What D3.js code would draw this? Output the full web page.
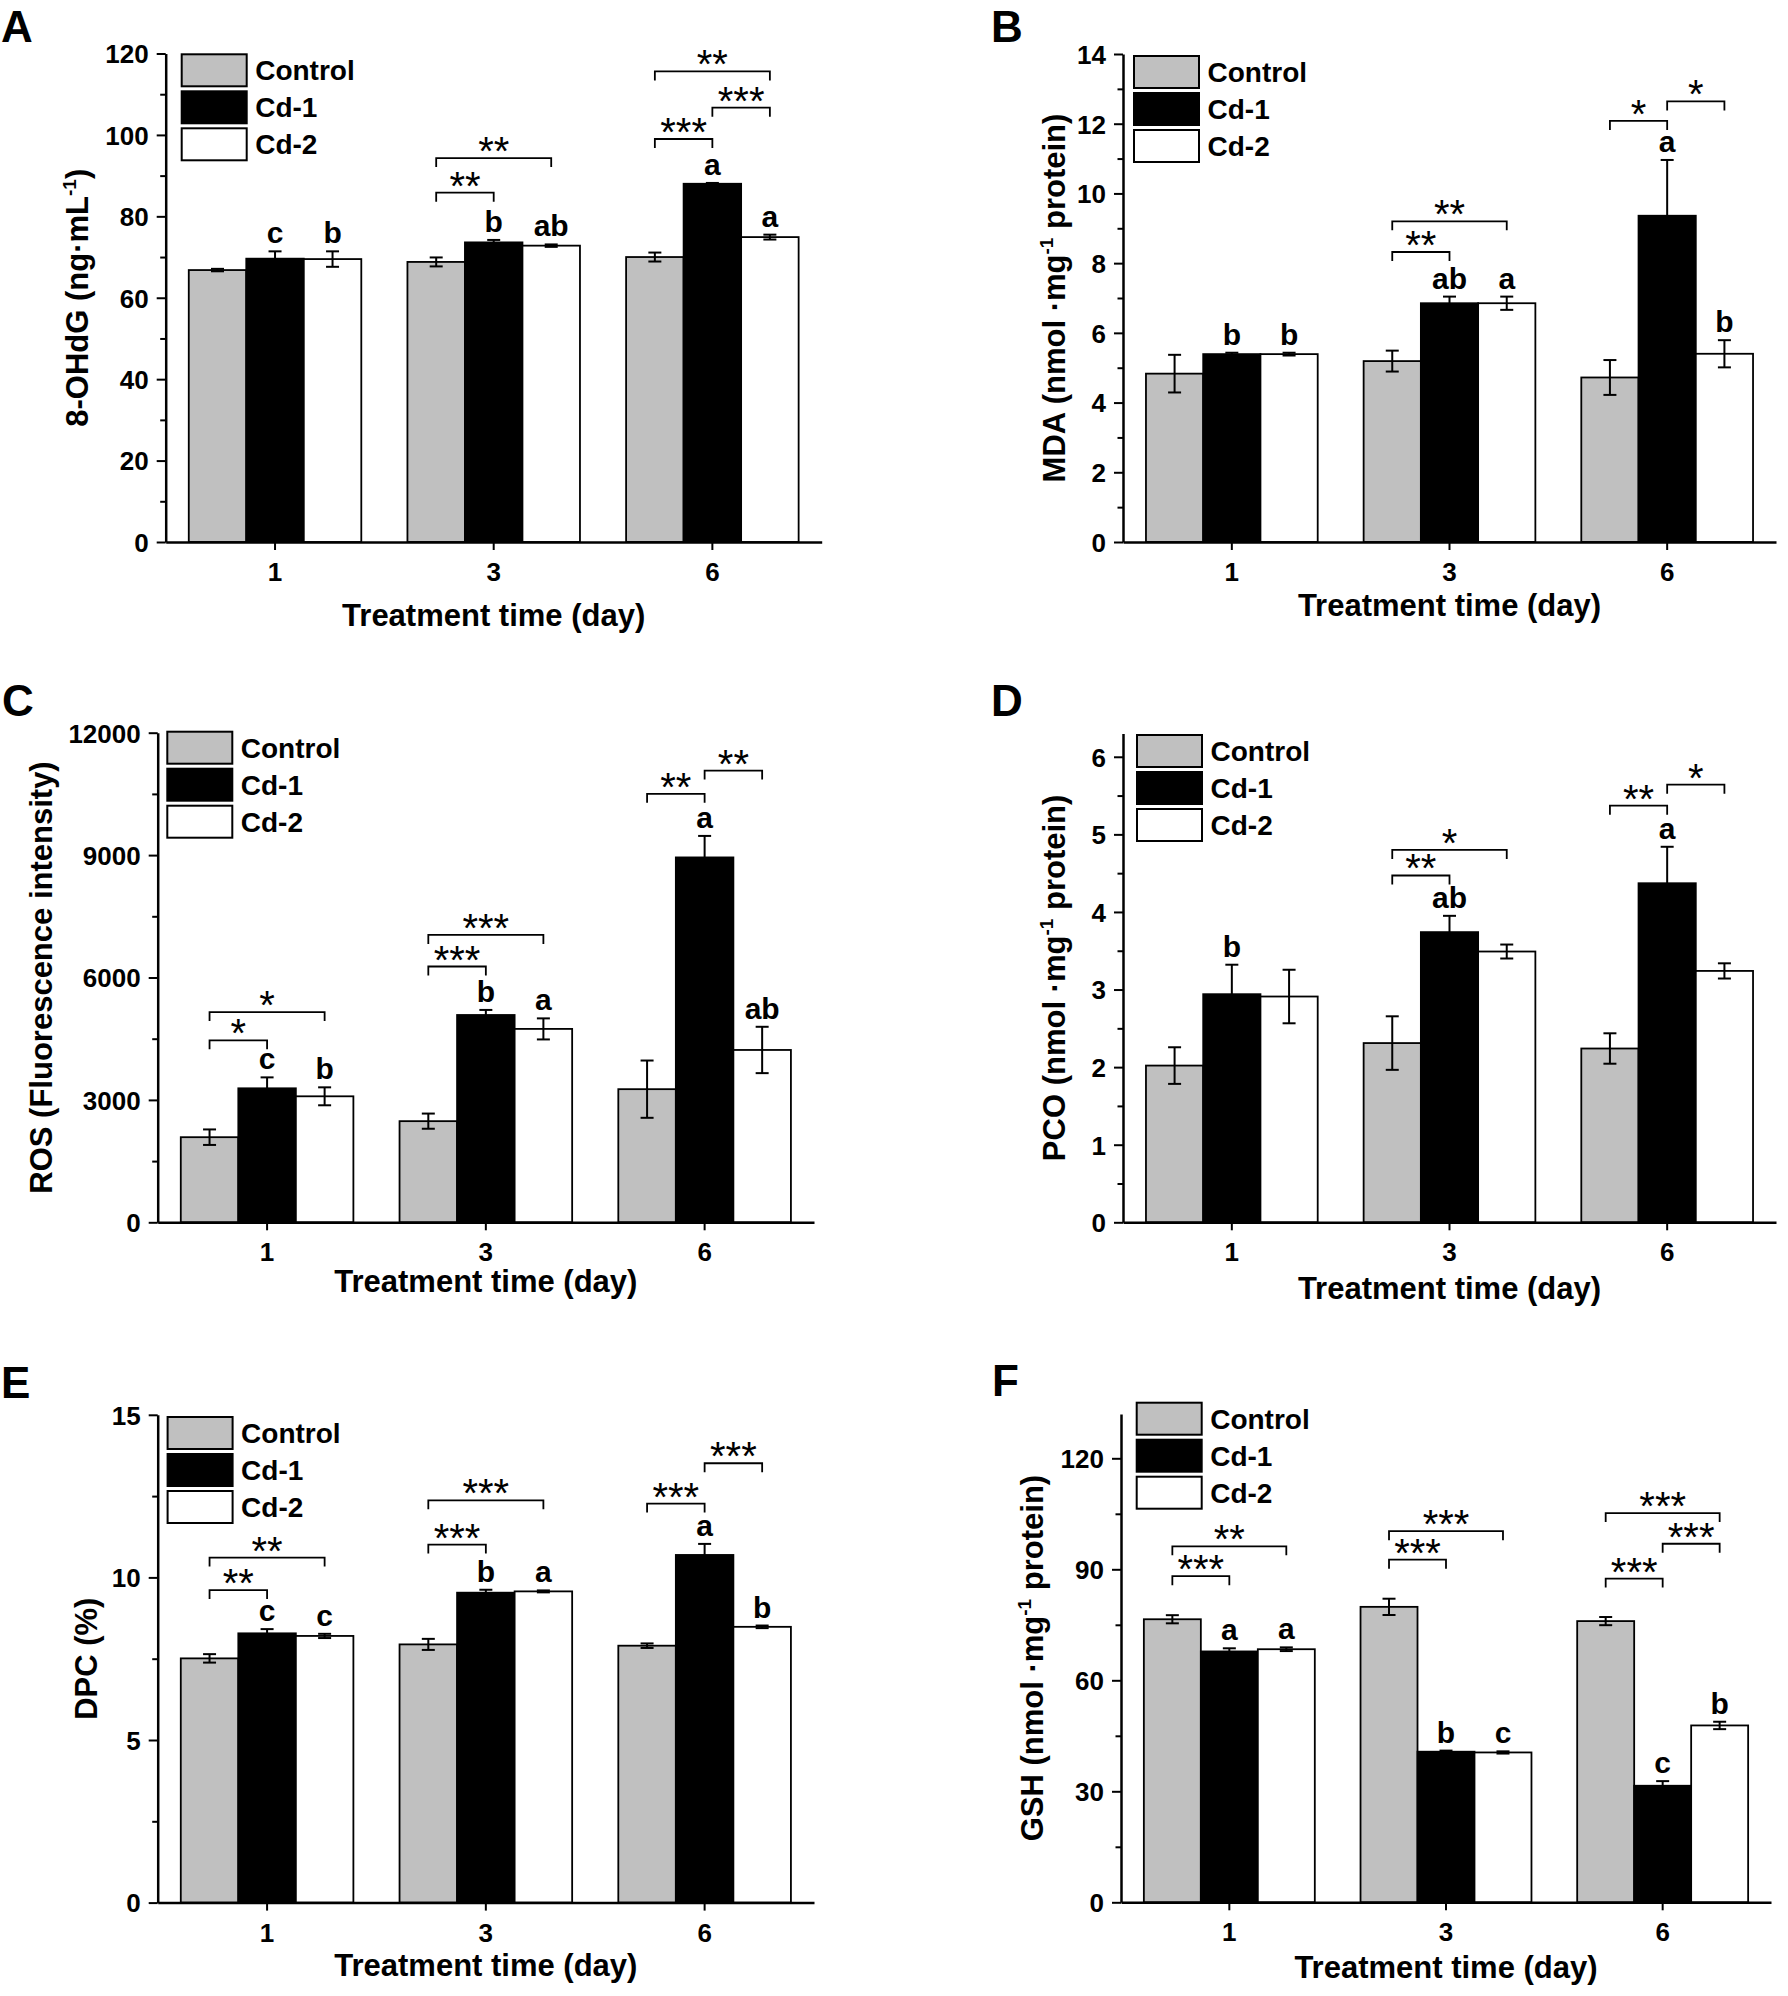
<!DOCTYPE html>
<html>
<head>
<meta charset="utf-8">
<script src="https://cdn.jsdelivr.net/npm/d3@7"></script>
<style>
body{margin:0;background:#fff}
svg{display:block;background:#fff}
text{font-family:"Liberation Sans",Arial,Helvetica,sans-serif;fill:#000}
</style>
</head>
<body>
<svg id="chart" width="1788" height="1996"></svg>
<script>
// ---------- shared categories ----------
const days = ["1", "3", "6"];
const groups = ["Control", "Cd-1", "Cd-2"];

// ---------- A: 8-OHdG ----------
const ohdgTicks = [0, 20, 40, 60, 80, 100, 120];
const ohdgMinor = [10, 30, 50, 70, 90, 110];
const ohdgControl = [66.8, 68.8, 70.0];
const ohdgCd1 = [69.6, 73.6, 88.0];
const ohdgCd2 = [69.5, 72.8, 74.9];
const ohdgControlErr = [0.3, 1.1, 1.1];
const ohdgCd1Err = [1.8, 0.6, 0.2];
const ohdgCd2Err = [1.9, 0.3, 0.6];
const ohdgCd1Letters = ["c", "b", "a"];
const ohdgCd2Letters = ["b", "ab", "a"];
// [day index, from group, to group, y value, label]
const ohdgBrackets = [[1, 0, 1, 85.8, "**"], [1, 0, 2, 94.3, "**"], [2, 0, 1, 99.0, "***"], [2, 1, 2, 106.7, "***"], [2, 0, 2, 115.6, "**"]];

// ---------- B: MDA ----------
const mdaTicks = [0, 2, 4, 6, 8, 10, 12, 14];
const mdaMinor = [1, 3, 5, 7, 9, 11, 13];
const mdaControl = [4.83, 5.19, 4.72];
const mdaCd1 = [5.39, 6.85, 9.36];
const mdaCd2 = [5.39, 6.85, 5.40];
const mdaControlErr = [0.54, 0.30, 0.50];
const mdaCd1Err = [0.04, 0.19, 1.6];
const mdaCd2Err = [0.04, 0.19, 0.39];
const mdaCd1Letters = ["b", "ab", "a"];
const mdaCd2Letters = ["b", "a", "b"];
const mdaBrackets = [[1, 0, 1, 8.32, "**"], [1, 0, 2, 9.2, "**"], [2, 0, 1, 12.08, "*"], [2, 1, 2, 12.64, "*"]];

// ---------- C: ROS ----------
const rosTicks = [0, 3000, 6000, 9000, 12000];
const rosMinor = [1500, 4500, 7500, 10500];
const rosControl = [2086, 2479, 3263];
const rosCd1 = [3284, 5081, 8943];
const rosCd2 = [3088, 4740, 4224];
const rosControlErr = [190, 186, 702];
const rosCd1Err = [268, 124, 527];
const rosCd2Err = [220, 258, 568];
const rosCd1Letters = ["c", "b", "a"];
const rosCd2Letters = ["b", "a", "ab"];
const rosBrackets = [[0, 0, 1, 4461, "*"], [0, 0, 2, 5153, "*"], [1, 0, 1, 6269, "***"], [1, 0, 2, 7043, "***"], [2, 0, 1, 10503, "**"], [2, 1, 2, 11071, "**"]];

// ---------- D: PCO ----------
const pcoTicks = [0, 1, 2, 3, 4, 5, 6];
const pcoMinor = [0.5, 1.5, 2.5, 3.5, 4.5, 5.5];
const pcoControl = [2.02, 2.31, 2.24];
const pcoCd1 = [2.94, 3.74, 4.37];
const pcoCd2 = [2.91, 3.49, 3.24];
const pcoControlErr = [0.236, 0.345, 0.196];
const pcoCd1Err = [0.38, 0.21, 0.47];
const pcoCd2Err = [0.345, 0.09, 0.098];
const pcoCd1Letters = ["b", "ab", "a"];
const pcoCd2Letters = ["", "", ""];
const pcoBrackets = [[1, 0, 1, 4.47, "**"], [1, 0, 2, 4.80, "*"], [2, 0, 1, 5.37, "**"], [2, 1, 2, 5.64, "*"]];

// ---------- E: DPC ----------
const dpcTicks = [0, 5, 10, 15];
const dpcMinor = [2.5, 7.5, 12.5];
const dpcControl = [7.51, 7.94, 7.90];
const dpcCd1 = [8.28, 9.53, 10.69];
const dpcCd2 = [8.20, 9.57, 8.48];
const dpcControlErr = [0.13, 0.17, 0.07];
const dpcCd1Err = [0.13, 0.09, 0.34];
const dpcCd2Err = [0.065, 0.03, 0.04];
const dpcCd1Letters = ["c", "b", "a"];
const dpcCd2Letters = ["c", "a", "b"];
const dpcBrackets = [[0, 0, 1, 9.61, "**"], [0, 0, 2, 10.61, "**"], [1, 0, 1, 11.01, "***"], [1, 0, 2, 12.37, "***"], [2, 0, 1, 12.27, "***"], [2, 1, 2, 13.51, "***"]];

// ---------- F: GSH ----------
const gshTicks = [0, 30, 60, 90, 120];
const gshMinor = [15, 45, 75, 105];
const gshControl = [76.5, 79.85, 76.0];
const gshCd1 = [67.8, 40.7, 31.5];
const gshCd2 = [68.4, 40.5, 47.8];
const gshControlErr = [1.1, 2.2, 1.1];
const gshCd1Err = [0.85, 0.3, 1.25];
const gshCd2Err = [0.5, 0.3, 1.0];
const gshCd1Letters = ["a", "b", "c"];
const gshCd2Letters = ["a", "c", "b"];
const gshBrackets = [[0, 0, 1, 88.15, "***"], [0, 0, 2, 96.2, "**"], [1, 0, 1, 92.6, "***"], [1, 0, 2, 100.3, "***"], [2, 0, 1, 87.5, "***"], [2, 1, 2, 96.9, "***"], [2, 0, 2, 105.2, "***"]];

// ---------- panel definitions (data references) ----------
const panels = [
  {key: "A", title: [["8-OHdG (ng·mL"], ["-1", 1], [")"]], max: 120, ticks: ohdgTicks, minor: ohdgMinor,
   means: [ohdgControl, ohdgCd1, ohdgCd2], errs: [ohdgControlErr, ohdgCd1Err, ohdgCd2Err],
   letters: [null, ohdgCd1Letters, ohdgCd2Letters], brackets: ohdgBrackets},
  {key: "B", title: [["MDA (nmol ·mg"], ["-1", 1], [" protein)"]], max: 14, ticks: mdaTicks, minor: mdaMinor,
   means: [mdaControl, mdaCd1, mdaCd2], errs: [mdaControlErr, mdaCd1Err, mdaCd2Err],
   letters: [null, mdaCd1Letters, mdaCd2Letters], brackets: mdaBrackets},
  {key: "C", title: [["ROS (Fluorescence intensity)"]], max: 12000, ticks: rosTicks, minor: rosMinor,
   means: [rosControl, rosCd1, rosCd2], errs: [rosControlErr, rosCd1Err, rosCd2Err],
   letters: [null, rosCd1Letters, rosCd2Letters], brackets: rosBrackets},
  {key: "D", title: [["PCO (nmol ·mg"], ["-1", 1], [" protein)"]], max: 6.3, ticks: pcoTicks, minor: pcoMinor,
   means: [pcoControl, pcoCd1, pcoCd2], errs: [pcoControlErr, pcoCd1Err, pcoCd2Err],
   letters: [null, pcoCd1Letters, pcoCd2Letters], brackets: pcoBrackets},
  {key: "E", title: [["DPC (%)"]], max: 15, ticks: dpcTicks, minor: dpcMinor,
   means: [dpcControl, dpcCd1, dpcCd2], errs: [dpcControlErr, dpcCd1Err, dpcCd2Err],
   letters: [null, dpcCd1Letters, dpcCd2Letters], brackets: dpcBrackets},
  {key: "F", title: [["GSH (nmol ·mg"], ["-1", 1], [" protein)"]], max: 132, ticks: gshTicks, minor: gshMinor,
   means: [gshControl, gshCd1, gshCd2], errs: [gshControlErr, gshCd1Err, gshCd2Err],
   letters: [null, gshCd1Letters, gshCd2Letters], brackets: gshBrackets}
];

// ---------- layout (pixels) ----------
const layout = {
  A: {x0: 165.7, x1: 821.7, y0: 542,    y1: 53.5,   lx: 1,   ly: 42,   legX: 181.7,  legY: 54.3,  ytX: 88,     xtDy: 84},
  B: {x0: 1123,  x1: 1776,  y0: 542,    y1: 54,     lx: 991, ly: 42,   legX: 1134,   legY: 56,    ytX: 1064.5, xtDy: 74},
  C: {x0: 157.7, x1: 814,   y0: 1222.3, y1: 732.7,  lx: 2,   ly: 716,  legX: 167.3,  legY: 731.7, ytX: 52,     xtDy: 69.4},
  D: {x0: 1123,  x1: 1776,  y0: 1222.3, y1: 733.5,  lx: 991, ly: 716,  legX: 1137,   legY: 735,   ytX: 1064.5, xtDy: 77},
  E: {x0: 157.7, x1: 814,   y0: 1902.6, y1: 1414.8, lx: 1,   ly: 1398, legX: 167.6,  legY: 1417,  ytX: 97,     xtDy: 73},
  F: {x0: 1121,  x1: 1771,  y0: 1902.3, y1: 1413.9, lx: 992, ly: 1396, legX: 1136.7, legY: 1402.7, ytX: 1043,  xtDy: 76}
};

const fills = ["#c0c0c0", "#000000", "#ffffff"];
const svg = d3.select("#chart");

panels.forEach(p => {
  const L = layout[p.key];
  const g = svg.append("g").attr("class", "panel-" + p.key);

  const x = d3.scaleBand().domain(days).range([L.x0, L.x1]).paddingInner(0).paddingOuter(0);
  const y = d3.scaleLinear().domain([0, p.max]).range([L.y0, L.y1]);
  const bw = x.bandwidth() * 0.263;
  const sub = d3.scaleBand().domain(groups).range([-1.5 * bw, 1.5 * bw]);
  const cx = (d, grp) => x(d) + x.bandwidth() / 2 + sub(grp) + bw / 2;

  // bars
  groups.forEach((grp, si) => {
    const rows = days.map((d, i) => ({d, v: p.means[si][i], e: p.errs[si][i]}));
    g.append("g").selectAll("rect").data(rows).join("rect")
      .attr("x", r => cx(r.d, grp) - bw / 2)
      .attr("y", r => y(r.v))
      .attr("width", bw)
      .attr("height", r => y(0) - y(r.v))
      .attr("fill", fills[si])
      .attr("stroke", "#000")
      .attr("stroke-width", 1.8);
  });

  // error bars
  groups.forEach((grp, si) => {
    const rows = days.map((d, i) => ({d, v: p.means[si][i], e: p.errs[si][i]}));
    const eg = g.append("g").attr("stroke", "#000").attr("stroke-width", 2).attr("fill", "none");
    rows.forEach(r => {
      const c = cx(r.d, grp);
      const yt = y(r.v + r.e), yb = y(r.v - r.e);
      eg.append("line").attr("x1", c).attr("x2", c).attr("y1", yt).attr("y2", yb);
      eg.append("line").attr("x1", c - 6.5).attr("x2", c + 6.5).attr("y1", yt).attr("y2", yt);
      eg.append("line").attr("x1", c - 6.5).attr("x2", c + 6.5).attr("y1", yb).attr("y2", yb);
    });
  });

  // significance letters
  groups.forEach((grp, si) => {
    if (!p.letters[si]) return;
    days.forEach((d, i) => {
      const t = p.letters[si][i];
      if (!t) return;
      g.append("text")
        .attr("x", cx(d, grp))
        .attr("y", y(p.means[si][i] + p.errs[si][i]) - 8)
        .attr("text-anchor", "middle")
        .attr("font-size", 30).attr("font-weight", "bold")
        .text(t);
    });
  });

  // brackets with stars
  p.brackets.forEach(b => {
    const d = days[b[0]];
    const xa = cx(d, groups[b[1]]), xb = cx(d, groups[b[2]]);
    const yy = y(b[3]);
    g.append("path")
      .attr("d", `M${xa},${yy + 9}V${yy}H${xb}V${yy + 9}`)
      .attr("fill", "none").attr("stroke", "#000").attr("stroke-width", 1.8);
    g.append("text")
      .attr("x", (xa + xb) / 2).attr("y", yy + 7)
      .attr("text-anchor", "middle")
      .attr("font-size", 40).attr("font-weight", "normal")
      .text(b[4]);
  });

  // y axis (major + minor)
  const yAxis = g.append("g").attr("transform", `translate(${L.x0},0)`)
    .call(d3.axisLeft(y).tickValues(p.ticks).tickSize(9).tickSizeOuter(0).tickFormat(d3.format("d")));
  yAxis.select(".domain").attr("stroke-width", 2.5);
  yAxis.selectAll(".tick line").attr("stroke-width", 2);
  yAxis.selectAll(".tick text").attr("x", -17).attr("dy", "0.36em")
    .attr("font-size", 26).attr("font-weight", "bold")
    .attr("font-family", '"Liberation Sans",Arial,sans-serif').attr("fill", "#000");
  const yMinor = g.append("g").attr("transform", `translate(${L.x0},0)`)
    .call(d3.axisLeft(y).tickValues(p.minor).tickSize(5.5).tickFormat(""));
  yMinor.select(".domain").remove();
  yMinor.selectAll(".tick line").attr("stroke-width", 2);

  // x axis
  const xAxis = g.append("g").attr("transform", `translate(0,${L.y0})`)
    .call(d3.axisBottom(x).tickSize(8).tickSizeOuter(0));
  xAxis.select(".domain").attr("stroke-width", 2.5);
  xAxis.selectAll(".tick line").attr("stroke-width", 2);
  xAxis.selectAll(".tick text").attr("y", 39).attr("dy", 0)
    .attr("font-size", 26).attr("font-weight", "bold")
    .attr("font-family", '"Liberation Sans",Arial,sans-serif').attr("fill", "#000");

  // x title
  g.append("text")
    .attr("x", (L.x0 + L.x1) / 2).attr("y", L.y0 + L.xtDy)
    .attr("text-anchor", "middle").attr("font-size", 31).attr("font-weight", "bold")
    .text("Treatment time (day)");

  // y title
  const yt = g.append("text")
    .attr("transform", `translate(${L.ytX},${(L.y0 + L.y1) / 2}) rotate(-90)`)
    .attr("text-anchor", "middle").attr("font-size", 31).attr("font-weight", "bold");
  let shifted = false;
  p.title.forEach(part => {
    const ts = yt.append("tspan").text(part[0]);
    if (part[1]) { ts.attr("font-size", 19).attr("dy", -12); shifted = true; }
    else if (shifted) { ts.attr("dy", 12); shifted = false; }
  });

  // legend
  groups.forEach((grp, si) => {
    const top = L.legY + si * 37;
    g.append("rect").attr("x", L.legX).attr("y", top).attr("width", 65).attr("height", 32)
      .attr("fill", fills[si]).attr("stroke", "#000").attr("stroke-width", 2);
    g.append("text").attr("x", L.legX + 73.5).attr("y", top + 16 + 10)
      .attr("font-size", 28).attr("font-weight", "bold").text(grp);
  });

  // panel letter
  g.append("text").attr("x", L.lx).attr("y", L.ly)
    .attr("font-size", 44).attr("font-weight", "bold").text(p.key);
});
</script>
</body>
</html>
